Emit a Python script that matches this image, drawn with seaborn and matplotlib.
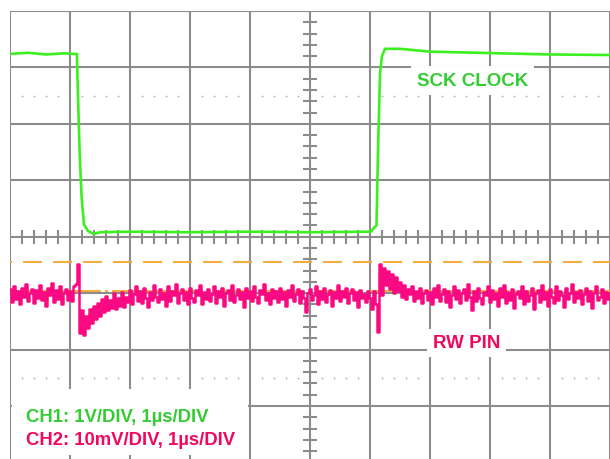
import numpy as np
import matplotlib
matplotlib.use("Agg")
import matplotlib.pyplot as plt
from matplotlib.patches import Rectangle
import seaborn as sns

# screen units: x in microseconds (1 us/div), y in divisions (centre = 0)
ch1_time = [0.0, 0.3, 0.6, 0.9, 1.05, 1.115, 1.125, 1.16, 1.195, 1.233, 1.3, 1.4,
            1.5, 2.0, 3.0, 4.0, 5.0, 6.0, 6.03, 6.05, 6.108, 6.133, 6.167, 6.2,
            6.25, 6.5, 7.0, 8.17, 9.0, 10.0]
ch1_level = [3.24, 3.26, 3.23, 3.25, 3.24, 3.24, 2.8, 1.5, 0.67, 0.22, 0.10, 0.05,
             0.08, 0.09, 0.08, 0.09, 0.08, 0.09, 0.10, 0.14, 0.20, 1.5, 2.9, 3.2,
             3.33, 3.33, 3.28, 3.25, 3.23, 3.22]

# CH2, 2 px per sample
ch2_level = [
    -0.92, -1.15, -0.88, -1.10, -0.96, -1.20, -0.90, -1.06, -0.84, -1.14, -1.00, -0.92, -1.18, -0.95, -1.08,
    -0.86, -1.12, -0.98, -1.22, -0.90, -1.04, -0.82, -1.16, -0.94, -1.10, -0.88, -1.20, -1.00, -0.92, -1.12,
    -0.96, -1.14, -0.88, -0.84, -0.48, -1.70, -1.30, -1.74, -1.40, -1.62, -1.28, -1.52, -1.22, -1.46, -1.18,
    -1.40, -1.10, -1.34, -1.05, -1.30, -1.12, -1.26, -1.00, -1.28, -1.08, -1.22, -0.98, -1.24, -1.06, -1.16,
    -0.94, -1.20, -1.02, -0.88, -1.14, -0.96, -1.18, -0.90, -1.08, -1.24, -0.98, -1.12, -0.86, -1.06, -1.16,
    -0.92, -1.10, -1.00, -1.22, -0.88, -1.14, -0.96, -1.04, -0.84, -1.18, -1.00, -0.92, -1.12, -0.98, -1.20,
    -0.90, -1.08, -1.16, -0.94, -1.04, -0.86, -1.20, -0.98, -1.10, -0.92, -1.14, -1.02, -0.88, -1.18, -0.96,
    -1.06, -0.90, -1.22, -1.00, -0.94, -1.12, -0.86, -1.16, -1.04, -0.92, -1.10, -0.98, -1.24, -0.90, -1.08,
    -0.96, -1.14, -0.88, -1.06, -1.18, -0.94, -1.02, -0.84, -1.12, -1.00, -1.20, -0.92, -1.08, -0.96, -1.16,
    -0.90, -1.10, -0.98, -1.22, -0.94, -1.06, -0.86, -1.14, -1.02, -0.92, -1.18, -0.96, -1.08, -1.34, -1.00,
    -0.92, -1.12, -1.04, -0.88, -1.20, -0.96, -1.10, -0.90, -1.16, -1.02, -0.94, -1.22, -0.98, -1.08, -0.86,
    -1.14, -0.96, -1.06, -0.90, -1.18, -1.00, -0.92, -1.12, -0.98, -1.24, -0.94, -1.08, -1.02, -1.16, -0.96,
    -1.08, -1.28, -0.96, -1.20, -1.68, -0.48, -1.04, -0.56, -0.86, -0.60, -0.92, -0.66, -1.00, -0.72, -0.96,
    -0.80, -1.06, -0.86, -1.10, -0.92, -1.02, -0.88, -1.14, -0.96, -1.08, -0.90, -1.18, -1.00, -0.94, -1.12,
    -0.98, -1.20, -0.90, -1.06, -0.86, -1.14, -1.02, -0.92, -1.16, -0.96, -1.24, -1.04, -0.88, -1.10, -0.94,
    -1.18, -1.00, -0.92, -1.12, -0.84, -1.06, -1.30, -0.96, -1.14, -0.90, -1.08, -1.20, -0.98, -1.04, -0.88,
    -1.16, -0.94, -1.10, -1.00, -1.22, -0.90, -1.06, -0.86, -1.18, -0.98, -1.12, -0.92, -1.26, -1.02, -0.96,
    -1.08, -0.88, -1.20, -0.96, -1.14, -1.04, -0.90, -1.28, -1.00, -0.94, -1.16, -0.86, -1.10, -0.98, -1.22,
    -0.92, -1.06, -1.18, -0.88, -1.12, -0.96, -1.04, -1.24, -0.90, -1.10, -1.00, -0.84, -1.16, -0.98, -1.08,
    -0.94, -1.20, -1.02, -0.90, -1.14, -0.96, -1.26, -1.00, -0.88, -1.12, -1.06, -0.92, -1.18, -0.98, -1.10,
    -1.00,
]
ch2_time = np.linspace(0, 10, len(ch2_level))

cursor_upper = -0.45
cursor_lower = -0.96

GREEN = "#3cf020"
PINK = "#fa0a82"
ORANGE = "#f5aa3a"
GRID = "#8c8c8c"
TXT_GREEN = "#33cc33"
TXT_PINK = "#f0085f"

sns.set_theme(style="white")
plt.rcParams["font.family"] = ["Liberation Sans", "DejaVu Sans"]
plt.rcParams["lines.scale_dashes"] = False

fig = plt.figure(figsize=(6.1, 4.6), dpi=100)
ax = fig.add_axes([10 / 610, -3.5 / 460, 600 / 610, 451.5 / 460])
ax.set_xlim(0, 10)
ax.set_ylim(-4, 4)
ax.axis("off")

# graticule
for xv in range(0, 11):
    ax.axvline(xv, color=GRID, lw=1.5, zorder=1)
for yv in range(-4, 5):
    ax.axhline(yv, color=GRID, lw=1.5, zorder=1)

# centre ticks
tx = np.arange(0.2, 10, 0.2)
tx = tx[np.abs(tx - np.round(tx)) > 1e-6]
ax.vlines(tx, -0.12, 0.12, color=GRID, lw=1.5, zorder=1)
ty = np.arange(-3.8, 4, 0.2)
ty = ty[np.abs(ty - np.round(ty)) > 1e-6]
ax.hlines(ty, 5 - 0.115, 5 + 0.115, color=GRID, lw=1.5, zorder=1)

# dotted rows
for yv in (2.5, -2.5):
    ax.scatter(tx, np.full_like(tx, yv), s=1.5, color="#aaaaaa", linewidths=0, zorder=1)

# cursors
px = 0.72
l1 = ax.axhline(cursor_upper, color=ORANGE, lw=1.4, zorder=2)
l1.set_linestyle((17 * px, (19 * px, 11 * px)))
l2 = ax.axhline(cursor_lower, color=ORANGE, lw=1.4, zorder=2)
l2.set_linestyle((0, (40 * px, 4 * px, 3 * px, 4 * px)))

sns.lineplot(x=ch2_time, y=ch2_level, ax=ax, color=PINK, lw=1.8,
             drawstyle="steps-mid", zorder=3)
sns.lineplot(x=ch1_time, y=ch1_level, ax=ax, color=GREEN, lw=1.9, zorder=4)

box = dict(facecolor="white", edgecolor="none", pad=4)
tkw = dict(fontweight="bold", va="baseline", ha="left")
ax.text(6.78, 2.69, "SCK CLOCK", color=TXT_GREEN, fontsize=13.5, bbox=box, zorder=5, **tkw)
ax.text(7.05, -1.96, "RW PIN", color=TXT_PINK, fontsize=13.5, bbox=box, zorder=5, **tkw)

ax.add_patch(Rectangle((0.033, -3.86), 3.93, 1.16, facecolor="white",
                       edgecolor="none", zorder=5))
ax.text(0.267, -3.27, "CH1: 1V/DIV, 1\u00b5s/DIV", color=TXT_GREEN, fontsize=13.3,
        zorder=6, **tkw)
ax.text(0.267, -3.68, "CH2: 10mV/DIV, 1\u00b5s/DIV", color=TXT_PINK, fontsize=13.3,
        zorder=6, **tkw)

fig.savefig("out.png", dpi=100)
